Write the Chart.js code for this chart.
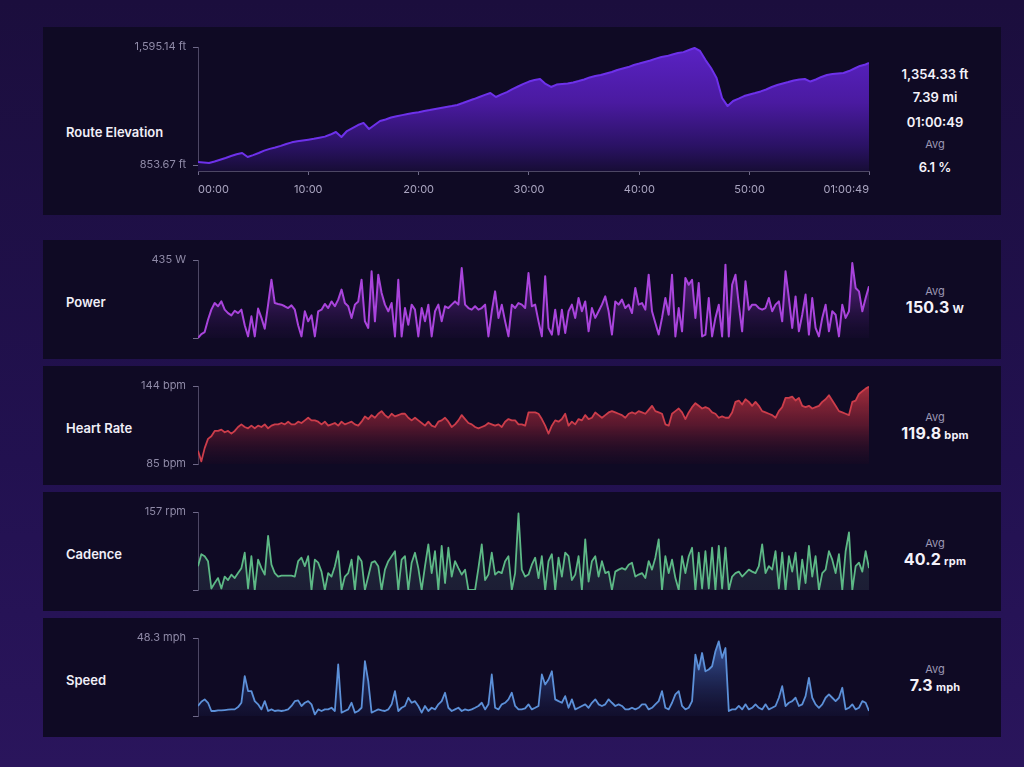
<!DOCTYPE html>
<html>
<head>
<meta charset="utf-8">
<script src="https://cdn.jsdelivr.net/npm/chart.js"></script>
<style>
  html, body { margin: 0; padding: 0; }
  body {
    width: 1024px; height: 767px; overflow: hidden; position: relative;
    background: linear-gradient(180deg, #1b0e3d 0%, #221150 60%, #2a155c 100%);
    font-family: Inter, "Open Sans", sans-serif;
  }
  .panel { position: absolute; left: 43px; width: 958px; background: #0f0a24; }
  .box { position: absolute; }
  .lbl { position: absolute; left: 66px; color: #f1eff8; font-size: 13px; font-weight: 600;
         line-height: 16px; transform: translateY(-50%); white-space: nowrap; }
  .stat { position: absolute; left: 875px; width: 120px; text-align: center; color: #f4f2fa;
          font-size: 13px; font-weight: 600; line-height: 16px; transform: translateY(-50%); white-space: nowrap; }
  .avg { color: #9c97b3; font-size: 11px; font-weight: 400; }
  .big { font-size: 16px; font-weight: 700; letter-spacing: 0.2px; }
  .big small { font-size: 11px; font-weight: 700; margin-left: 3px; }
</style>
</head>
<body>
<div class="panel" style="top:27px;height:188px"></div>
<div class="panel" style="top:240px;height:119px"></div>
<div class="panel" style="top:366px;height:119px"></div>
<div class="panel" style="top:492px;height:119px"></div>
<div class="panel" style="top:618px;height:119px"></div>

<div class="lbl" style="top:132px">Route Elevation</div>
<div class="lbl" style="top:302px">Power</div>
<div class="lbl" style="top:428px">Heart Rate</div>
<div class="lbl" style="top:554px">Cadence</div>
<div class="lbl" style="top:680px">Speed</div>

<div class="stat" style="top:74px">1,354.33 ft</div>
<div class="stat" style="top:97px">7.39 mi</div>
<div class="stat" style="top:122px">01:00:49</div>
<div class="stat avg" style="top:144px">Avg</div>
<div class="stat" style="top:167px">6.1 %</div>

<div class="stat avg" style="top:291px">Avg</div>
<div class="stat big" style="top:308px">150.3<small>W</small></div>
<div class="stat avg" style="top:417px">Avg</div>
<div class="stat big" style="top:434px">119.8<small>bpm</small></div>
<div class="stat avg" style="top:543px">Avg</div>
<div class="stat big" style="top:560px">40.2<small>rpm</small></div>
<div class="stat avg" style="top:669px">Avg</div>
<div class="stat big" style="top:686px">7.3<small>mph</small></div>

<div class="box" style="left:120px;top:40px;width:755px;height:165px"><canvas id="elev"></canvas></div>
<div class="box" style="left:120px;top:252px;width:755px;height:94px"><canvas id="power"></canvas></div>
<div class="box" style="left:120px;top:378px;width:755px;height:94px"><canvas id="hr"></canvas></div>
<div class="box" style="left:120px;top:504px;width:755px;height:94px"><canvas id="cad"></canvas></div>
<div class="box" style="left:120px;top:630px;width:755px;height:94px"><canvas id="speed"></canvas></div>

<script>
// ride length in seconds and elevation sample spacing
const DURATION = 3649;
const ELEV_STEP = 30;

const timeTicks = [0, 600, 1200, 1800, 2400, 3000, 3649];
const timeTickLabels = ['00:00', '10:00', '20:00', '30:00', '40:00', '50:00', '01:00:49'];

const elevTicks = [853.67, 1595.14];
const elevTickLabels = ['853.67 ft', '1,595.14 ft'];

// elevation (ft), one sample every 30 s
const elevationFt = [
  872, 869, 866, 876, 887, 898, 910, 921, 929, 904,
  916, 929, 944, 955, 964, 974, 986, 996, 1003, 1008,
  1013, 1018, 1025, 1032, 1045, 1061, 1030, 1067, 1086, 1105,
  1118, 1080, 1105, 1130, 1140, 1152, 1160, 1167, 1174, 1180,
  1185, 1193, 1199, 1206, 1212, 1218, 1224, 1231, 1243, 1256,
  1268, 1281, 1294, 1306, 1281, 1297, 1312, 1331, 1347, 1363,
  1378, 1388, 1394, 1363, 1344, 1359, 1363, 1366, 1372, 1381,
  1391, 1404, 1413, 1419, 1429, 1438, 1451, 1460, 1469, 1482,
  1491, 1501, 1510, 1522, 1532, 1538, 1548, 1557, 1563, 1576,
  1589, 1570, 1513, 1463, 1400, 1275, 1224, 1256, 1271, 1287,
  1297, 1306, 1316, 1328, 1344, 1356, 1366, 1375, 1385, 1391,
  1394, 1378, 1391, 1407, 1419, 1425, 1429, 1432, 1444, 1460,
  1476, 1485, 1495
];

const powerW = [
  0, 22, 33, 102, 158, 195, 177, 204, 158, 139,
  126, 152, 139, 158, 71, 9, 121, 9, 164, 112,
  52, 186, 325, 195, 190, 186, 177, 167, 182, 158,
  71, 9, 149, 93, 126, 9, 149, 158, 190, 167,
  204, 177, 214, 270, 195, 177, 112, 186, 204, 325,
  93, 56, 372, 93, 353, 251, 186, 149, 195, 9,
  325, 9, 167, 74, 186, 158, 9, 167, 93, 186,
  9, 149, 186, 93, 177, 167, 186, 204, 186, 390,
  186, 167, 158, 177, 158, 167, 186, 9, 149, 260,
  112, 186, 93, 9, 186, 167, 195,
  186, 167, 362, 177, 186, 93, 9, 344, 56, 19,
  158, 19, 158, 28, 149, 186, 112, 223, 149, 204,
  37, 167, 112, 149, 186, 232, 149, 19, 204, 186,
  214, 167, 186, 139, 279, 186, 195, 158, 353, 149,
  84, 19, 112, 223, 130, 353, 9, 167, 37, 335,
  297, 325, 112, 307, 9, 19, 223, 9, 112, 186,
  9, 409, 9, 297, 353, 186, 37, 316, 158, 186,
  186, 167, 158, 167, 223, 149, 186, 204, 93, 372,
  223, 56, 232, 37, 130, 242, 19, 223, 56, 9,
  112, 186, 37, 149, 130, 9, 186, 112, 149, 418,
  279, 260, 149, 223, 288
];

const heartRateBpm = [
  95, 87, 97, 104, 106, 110, 110, 111, 109, 110,
  108, 110, 113, 115, 113, 112, 114, 112, 114, 113,
  115, 112, 114, 115, 115, 116, 115, 117, 115, 115,
  117, 116, 118, 120, 118, 118, 117, 115, 117, 114,
  115, 116, 114, 117, 115, 116, 117, 115, 114, 117,
  121, 119, 122, 120, 123, 125, 122, 120, 123, 121,
  122, 123, 123, 120, 118, 120, 118, 116, 114, 117,
  114, 113, 117, 118, 120, 117, 113, 115, 118, 122,
  119, 116, 115, 113, 112, 113, 114, 116, 115, 114,
  115, 113, 117, 119, 118, 118, 115,
  115, 114, 124, 124, 124, 123, 119, 114, 108, 114,
  118, 117, 119, 123, 114, 117, 115, 119, 118, 122,
  119, 120, 124, 122, 120, 122, 124, 125, 124, 123,
  122, 120, 123, 124, 123, 125, 124, 123, 126, 129,
  125, 124, 123, 115, 114, 123, 125, 127, 124, 119,
  124, 128, 131, 129, 127, 128, 127, 124, 123, 120,
  121, 120, 120, 124, 132, 133, 130, 134, 132, 129,
  132, 129, 125, 124, 123, 122, 120, 125, 128, 135,
  135, 136, 133, 135, 129, 128, 129, 127, 128, 129,
  132, 134, 137, 133, 129, 125, 124, 123, 122, 132,
  133, 138, 140, 142, 143.5
];

const cadenceRpm = [
  48, 72, 68, 58, 3, 14, 24, 3, 27, 20,
  31, 24, 34, 44, 75, 3, 68, 0, 61, 44,
  31, 109, 51, 34, 27, 29, 29, 29, 29, 27,
  58, 65, 48, 68, 0, 61, 55, 37, 0, 34,
  27, 48, 78, 0, 27, 34, 61, 0, 68, 58,
  0, 27, 55, 58, 48, 0, 41, 58, 68, 78,
  0, 61, 68, 0, 55, 75, 44, 0, 48, 92,
  34, 78, 0, 89, 14, 85, 27, 58, 44, 31,
  41, 0, 0, 0, 44, 92, 20, 31, 75, 31,
  37, 34, 58, 68, 0, 34, 154,
  41, 27, 31, 51, 65, 24, 68, 0, 58, 72,
  0, 65, 27, 75, 68, 20, 31, 68, 0, 102,
  17, 58, 68, 27, 58, 34, 37, 0, 37, 41,
  44, 41, 51, 55, 27, 31, 34, 24, 58, 41,
  65, 102, 0, 68, 34, 61, 24, 0, 68, 34,
  68, 85, 0, 75, 3, 78, 3, 85, 0, 89,
  3, 85, 0, 27, 34, 37, 27, 34, 41, 37,
  34, 48, 92, 34, 48, 41, 78, 3, 75, 0,
  68, 37, 75, 0, 61, 14, 89, 27, 68, 0,
  34, 41, 78, 61, 34, 72, 0, 78, 116, 0,
  48, 55, 37, 78, 44
];

const speedMph = [
  6.2, 8.8, 10.3, 8.2, 3.1, 3.1, 3.5, 3.5, 3.7, 3.9,
  4.1, 4.1, 5.5, 8.2, 24.7, 15.4, 15.4, 9.2, 7.2, 4.1,
  9.2, 3.1, 4.1, 3.1, 3.5, 3.1, 3.5, 4.1, 6.2, 9.2,
  9.7, 6.2, 8.2, 9.2, 7.2, 1.0, 4.1, 3.1, 4.1, 4.1,
  5.1, 3.1, 31.9, 2.1, 3.1, 4.1, 8.2, 2.1, 3.1, 5.1,
  33.9, 21.6, 2.1, 3.1, 4.1, 3.5, 3.1, 4.1, 7.2, 15.4,
  3.1, 5.1, 6.2, 11.3, 8.2, 9.2, 6.2, 2.1, 6.2, 3.1,
  5.1, 4.1, 7.2, 9.2, 14.4, 5.1, 3.1, 4.1, 5.1, 3.1,
  4.1, 3.5, 4.1, 5.1, 6.2, 8.2, 4.1, 7.2, 25.7, 5.1,
  4.1, 7.2, 8.2, 10.3, 14.4, 6.2, 4.1,
  4.1, 4.7, 7.2, 4.1, 5.1, 6.2, 25.7, 19.5, 22.6, 27.7,
  10.3, 9.2, 8.2, 12.3, 5.1, 10.3, 4.1, 5.1, 6.2, 7.2,
  5.1, 8.2, 10.3, 7.2, 6.2, 7.2, 10.3, 8.2, 6.2, 7.2,
  6.2, 4.1, 4.1, 5.1, 4.1, 5.1, 7.2, 7.2, 4.1, 5.1,
  7.2, 9.2, 15.4, 5.1, 4.1, 8.2, 13.4, 15.4, 6.2, 4.1,
  5.1, 9.2, 38.0, 28.8, 39.0, 27.7, 28.8, 30.8, 40.1, 46.2,
  36.0, 42.1, 3.1, 4.1, 4.1, 6.2, 4.1, 7.2, 4.1, 5.1,
  7.2, 5.1, 4.1, 7.2, 4.1, 5.1, 6.2, 11.3, 18.5, 6.2,
  8.2, 9.2, 11.3, 6.2, 7.2, 12.3, 23.6, 11.3, 7.2, 5.1,
  7.2, 11.3, 13.4, 11.3, 9.2, 11.3, 17.5, 4.1, 5.1, 7.2,
  4.1, 5.1, 9.2, 8.2, 3.1
];

const FONT = 'Inter, "Open Sans", sans-serif';

function gradient(stops) {
  return function (context) {
    const chart = context.chart;
    const area = chart.chartArea;
    if (!area) return 'transparent';
    const g = chart.ctx.createLinearGradient(0, area.top, 0, area.bottom);
    stops.forEach(s => g.addColorStop(s[0], s[1]));
    return g;
  };
}

function yAxis(min, max, tickVals, tickLabels) {
  return {
    type: 'linear', min: min, max: max,
    afterBuildTicks: s => { s.ticks = tickVals.map(v => ({ value: v })); },
    afterFit: s => { s.width = 78; s.paddingTop = 0; s.paddingBottom = 0; },
    border: { color: '#4d4764', width: 1 },
    grid: { drawOnChartArea: false, drawTicks: true, tickLength: 5, color: '#6f6989' },
    ticks: {
      color: '#8f8aa7', padding: 7, autoSkip: false,
      font: { family: FONT, size: 11 },
      callback: (v, i) => tickLabels[i]
    }
  };
}

function lineChart(id, data, xs, color, width, fillStops, yCfg, xCfg, padding) {
  new Chart(document.getElementById(id), {
    type: 'line',
    data: {
      datasets: [{
        data: data.map((v, i) => ({ x: xs ? xs(i) : i, y: v })),
        borderColor: color,
        borderWidth: width,
        borderJoinStyle: 'round',
        pointRadius: 0,
        tension: 0,
        fill: 'start',
        backgroundColor: gradient(fillStops)
      }]
    },
    options: {
      responsive: true,
      maintainAspectRatio: false,
      animation: false,
      layout: { padding: padding },
      plugins: { legend: { display: false }, tooltip: { enabled: false } },
      scales: { x: xCfg, y: yCfg }
    }
  });
}

// route elevation, with time axis
lineChart('elev', elevationFt, i => Math.min(i * ELEV_STEP, DURATION), '#6d31ea', 2,
  [[0, '#5a22c4'], [0.45, '#4a1aa0'], [0.8, '#2a1264'], [1, '#170d36']],
  yAxis(816, 1595.14, elevTicks, elevTickLabels),
  {
    type: 'linear', min: 0, max: DURATION,
    afterBuildTicks: s => { s.ticks = timeTicks.map(v => ({ value: v })); },
    afterFit: s => { s.height = 34; s.paddingLeft = 0; s.paddingRight = 0; },
    border: { color: '#4d4764', width: 1 },
    grid: { drawOnChartArea: false, tickLength: 4, color: '#6f6989' },
    ticks: {
      color: '#aaa5c0', padding: 8, align: 'inner', maxRotation: 0, autoSkip: false,
      font: { family: FONT, size: 11 },
      callback: (v, i) => timeTickLabels[i]
    }
  },
  { top: 7, right: 6, bottom: 0, left: 0 });

function smallX(n) {
  return { type: 'linear', display: false, min: 0, max: n - 1 };
}
const smallPad = { top: 8, right: 6, bottom: 8, left: 0 };

lineChart('power', powerW, null, '#a944dc', 2,
  [[0, 'rgba(150,60,205,0.6)'], [0.5, 'rgba(105,40,150,0.45)'], [1, 'rgba(40,16,70,0.15)']],
  yAxis(0, 435, [0, 435], ['', '435 W']), smallX(powerW.length), smallPad);

lineChart('hr', heartRateBpm, null, '#cc3d4b', 1.8,
  [[0, 'rgba(175,48,62,0.95)'], [0.5, 'rgba(120,30,50,0.7)'], [1, 'rgba(40,12,35,0.2)']],
  yAxis(85, 144, [85, 144], ['85 bpm', '144 bpm']), smallX(heartRateBpm.length), smallPad);

lineChart('cad', cadenceRpm, null, '#5db886', 1.8,
  [[0, 'rgba(70,150,110,0.25)'], [1, 'rgba(90,120,130,0.18)']],
  yAxis(0, 157, [0, 157], ['', '157 rpm']), smallX(cadenceRpm.length), smallPad);

lineChart('speed', speedMph, null, '#5c90d8', 1.8,
  [[0, 'rgba(80,130,225,0.7)'], [0.6, 'rgba(55,85,160,0.35)'], [1, 'rgba(35,45,100,0.15)']],
  yAxis(0, 48.3, [0, 48.3], ['', '48.3 mph']), smallX(speedMph.length), smallPad);
</script>
</body>
</html>
